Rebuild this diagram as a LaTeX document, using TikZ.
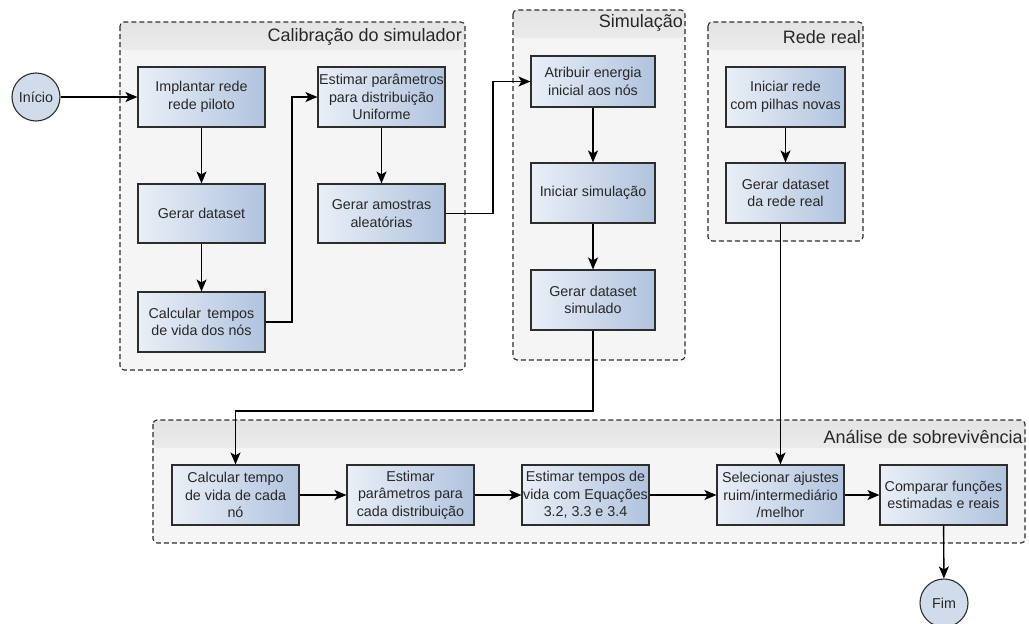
\documentclass[tikz,border=0pt]{standalone}
\usepackage{fontspec}
\setmainfont{Liberation Sans}
\usetikzlibrary{arrows.meta}
\definecolor{boxL}{RGB}{234,239,247}
\definecolor{boxR}{RGB}{176,195,222}
\definecolor{bord}{RGB}{45,45,45}
\definecolor{grpfill}{RGB}{245,245,245}
\definecolor{grphead}{RGB}{228,228,228}
\definecolor{circfill}{RGB}{208,220,236}
\definecolor{txt}{RGB}{40,40,40}
\tikzset{
  stepbox/.style={draw=bord, line width=1.1pt, shading=axis, left color=boxL, right color=boxR,
    minimum width=127pt, minimum height=60pt, align=center, inner sep=1pt, text=txt,
    font=\fontsize{14.3}{17.5}\selectfont},
  term/.style={circle, draw=bord, line width=1.1pt, fill=circfill, minimum size=48pt, inner sep=0pt,
    text=txt, font=\fontsize{14.3}{17}\selectfont},
  conn/.style={line width=1.4pt, -{Stealth[length=12pt,width=10pt,inset=3pt]}},
  grptitle/.style={anchor=east, inner sep=0pt, text=txt, font=\fontsize{18}{20}\selectfont},
}
\newcommand{\grpframe}[4]{%
  \fill[grpfill, rounded corners=4pt] (#1,#2) rectangle (#3,#4);
  \shade[top color=grphead, bottom color=grphead!60!grpfill, rounded corners=4pt] (#1,#2) rectangle (#3,#2+28);
  \draw[bord, line width=1.1pt, dash pattern=on 5pt off 3pt, rounded corners=4pt] (#1,#2) rectangle (#3,#4);
}
\begin{document}
\begin{tikzpicture}[x=1pt,y=-1pt]
\useasboundingbox (0,0) rectangle (1029,624);
% groups
\grpframe{120}{22}{465}{370}
\grpframe{513}{10}{685}{360}
\grpframe{708}{22}{863}{241}
\grpframe{153}{420}{1025}{543}
\node[grptitle] (tcal) at (462,37) {Calibração do simulador};
\node[grptitle] (tsim) at (683,23) {Simulação};
\node[grptitle] (trr) at (861,37) {Rede real};
\node[grptitle] (tana) at (1023,437) {Análise de sobrevivência};
% terminals
\node[term] (ini) at (36,97) {Início};
\node[term] (fim) at (944,603) {Fim};
% calibration
\node[stepbox] (imp) at (201.5,97) {Implantar rede\\rede piloto};
\node[stepbox, minimum height=59pt] (gds) at (201.5,213.5) {Gerar dataset};
\node[stepbox] (calc) at (201.5,322) {Calcular\, tempos\\de vida dos nós};
\node[stepbox] (est) at (381.5,97) {Estimar parâmetros\\para distribuição\\Uniforme};
\node[stepbox, minimum height=59pt] (amo) at (381.5,213.5) {Gerar amostras\\aleatórias};
% simulation
\node[stepbox, minimum width=124pt, minimum height=51pt] (atr) at (593,81.5) {Atribuir energia\\inicial aos nós};
\node[stepbox, minimum width=124pt] (isim) at (593,193) {Iniciar simulação};
\node[stepbox, minimum width=124pt] (gsim) at (593,300) {Gerar dataset\\simulado};
% real network
\node[stepbox, minimum width=119pt] (rr1) at (785.5,97) {Iniciar rede\\com pilhas novas};
\node[stepbox, minimum width=119pt] (rr2) at (785.5,193) {Gerar dataset\\da rede real};
% analysis
\node[stepbox] (a1) at (235.5,495) {Calcular tempo\\de vida de cada\\nó};
\node[stepbox] (a2) at (410.5,495) {Estimar\\parâmetros para\\cada distribuição};
\node[stepbox] (a3) at (585.5,495) {Estimar tempos de\\vida com Equações\\3.2, 3.3 e 3.4};
\node[stepbox] (a4) at (780.5,495) {Selecionar ajustes\\ruim/intermediário\\/melhor};
\node[stepbox] (a5) at (943.5,495) {Comparar funções\\estimadas e reais};
% connectors
\draw[conn] (ini) -- (imp);
\draw[conn] (imp) -- (gds);
\draw[conn] (gds) -- (calc);
\draw[conn] (calc.east) -- (292,322) |- (est.west);
\draw[conn] (est) -- (amo);
\draw[conn] (amo.east) -- (493,213.5) |- (atr.west);
\draw[conn] (atr) -- (isim);
\draw[conn] (isim) -- (gsim);
\draw[conn] (rr1) -- (rr2);
\draw[conn] (gsim.south) -- (593,411) -| (a1.north);
\draw[conn] (a4.north |- rr2.south) -- (a4.north);
\draw[conn] (a1) -- (a2);
\draw[conn] (a2) -- (a3);
\draw[conn] (a3) -- (a4);
\draw[conn] (a4) -- (a5);
\draw[conn] (a5) -- (fim);
\end{tikzpicture}
\end{document}
